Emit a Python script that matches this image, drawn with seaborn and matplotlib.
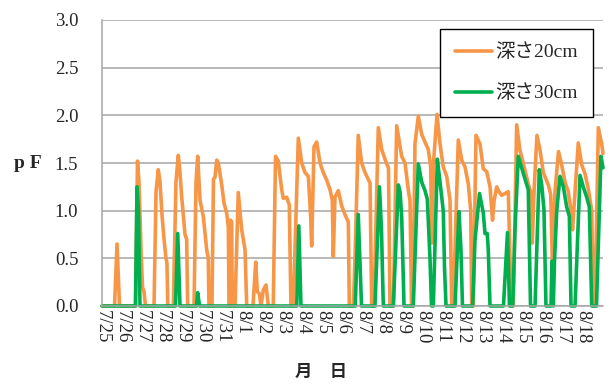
import matplotlib
matplotlib.use("Agg")
import matplotlib.pyplot as plt
import seaborn as sns
import pandas as pd
import numpy as np

# ---- data (hours since 7/25 0:00, pF) ----
hours_20 = [0, 15, 18, 21, 40.1, 42.5, 44.3, 46.7, 48.5, 50.3, 52.1,
            62.3, 64.7, 67.4, 69.5, 71.9, 74.3, 76.6, 77.8, 78.8,
            85.4, 88.6, 91.4, 93.4, 95.4, 99.4, 101.4, 102.6,
            110.2, 112.6, 114.6, 117.4, 121.3, 125.4, 127.3, 128.1,
            131.7, 133.5, 135.3, 137.4, 139.3, 143.4, 146.1, 149.4, 151.3, 152.1,
            153.1, 153.9, 155.3, 156.0,
            159.3, 163.2, 167.3, 171.3, 173.3,
            180.8, 184.1, 186.0, 188.4, 190.4, 193.2, 196.4, 199.2,
            205.1, 207.8, 211.1, 215.2, 217.1, 221.2, 224.3, 226.3,
            229.1, 235.1, 239.2, 243.1, 247.1, 249.9, 251.1, 253.9, 257.1, 261.1,
            265.0, 269.1, 273.1, 275.8, 277.0, 279.0, 283.0, 287.1, 291.0, 295.0, 296.2,
            301.0, 303.0, 306.9, 311.0, 315.0, 321.0, 323.0,
            325.7, 330.9, 335.0, 341.0, 343.1, 344.9,
            348.9, 352.9, 358.9, 362.9, 366.8, 368.9, 370.7,
            372.5, 374.8, 378.8, 382.9, 386.8, 390.8, 393.6, 395.2, 397.0, 401.2,
            404.8, 408.7, 412.8, 416.8, 418.8,
            420.7, 426.7, 430.8, 434.7, 438.7, 441.6, 442.7,
            444.7, 447.9, 452.7, 456.6, 460.7, 464.7, 467.7, 469.5, 472.7, 475.4,
            478.7, 482.6, 486.6, 488.6, 490.4,
            492.6, 496.6, 500.6, 504.5, 510.5, 513.2, 515.3, 517.4, 520.9, 524.5,
            528.5, 534.5, 537.4, 539.3, 542.5, 546.7, 550.5, 554.5, 558.4, 561.7,
            563.5, 566.5, 570.4, 574.5, 578.4, 582.4, 586.5, 588.4,
            590.4, 594.4, 598.4, 600]
pf_20 = [0, 0, 0.65, 0, 0, 1.52, 1.3, 0.6, 0.2, 0.15, 0,
         0, 1.2, 1.43, 1.3, 0.95, 0.7, 0.5, 0.45, 0,
         0, 1.3, 1.58, 1.4, 1.15, 0.75, 0.7, 0,
         0, 1.3, 1.57, 1.11, 0.94, 0.59, 0.5, 0,
         0, 1.33, 1.35, 1.53, 1.5, 1.27, 1.08, 0.97, 0.83, 0,
         0, 0.9, 0.88, 0,
         0, 1.19, 0.80, 0.59, 0,
         0, 0.46, 0.15, 0.13, 0, 0.17, 0.22, 0,
         0, 1.57, 1.52, 1.22, 1.13, 1.14, 1.06, 0,
         0, 1.76, 1.50, 1.40, 1.36, 0.94, 0.63, 1.67, 1.72, 1.50,
         1.40, 1.32, 1.22, 1.11, 0.52, 1.14, 1.21, 1.05, 0.96, 0.88, 0,
         0, 0.5, 1.79, 1.50, 1.40, 1.29, 0,
         0, 1.87, 1.64, 1.49, 1.45, 0,
         0, 1.89, 1.57, 1.50, 1.22, 1.10, 0,
         0, 1.70, 1.99, 1.80, 1.72, 1.64, 1.46, 0.66, 1.50, 2.01,
         1.70, 1.46, 1.36, 1.11, 0,
         0, 1.74, 1.53, 1.46, 1.28, 1.00, 0,
         0, 1.79, 1.70, 1.44, 1.41, 1.25, 0.90, 1.10, 1.25, 1.20,
         1.16, 1.18, 1.20, 0.50, 0,
         0, 1.90, 1.63, 1.50, 1.28, 1.20, 0.66, 1.20, 1.79, 1.64,
         1.40, 1.27, 1.17, 0.45, 1.20, 1.62, 1.48, 1.30, 1.20, 1.00,
         0.80, 1.20, 1.71, 1.48, 1.39, 1.23, 1.00, 0,
         0, 1.87, 1.70, 1.60]

hours_30 = [0, 40.1, 41.9, 43.7, 45.5,
            88.0, 90.7, 93.4,
            113.2, 114.6, 116.8,
            233.2, 235.7, 238.3,
            303.3, 306.9, 310.8,
            326.9, 332.3, 334.7, 336.9,
            348.9, 354.9, 356.9, 358.9, 361.7,
            372.8, 378.8, 382.9, 386.8, 389.6, 392.8, 394.6,
            396.8, 401.6, 404.8, 408.7, 410.2, 412.0,
            422.8, 427.5, 429.9, 431.7,
            443.9, 446.7, 452.1, 456.6, 458.7, 461.4, 462.6, 464.7,
            480.8, 485.6, 488.0,
            491.9, 494.6, 498.5, 502.6, 506.6, 510.5, 513.2,
            518.6, 523.7, 526.6, 529.3, 531.7,
            537.7, 538.9, 540.5, 541.9, 544.6, 548.5, 552.5, 556.5, 559.7, 561.7,
            566.5, 572.5, 576.4, 580.5, 583.6, 586.5,
            592.2, 597.6, 600]
pf_30 = [0, 0, 1.25, 1.0, 0,
         0, 0.76, 0,
         0, 0.14, 0,
         0, 0.84, 0,
         0, 0.96, 0,
         0, 1.25, 0.8, 0,
         0, 1.27, 1.20, 0.94, 0,
         0, 1.49, 1.30, 1.21, 1.12, 0.5, 0,
         0, 1.54, 1.30, 1.00, 0.40, 0,
         0, 0.99, 0.59, 0,
         0, 0.69, 1.18, 0.98, 0.76, 0.76, 0.59, 0,
         0, 0.77, 0,
         0, 0.80, 1.57, 1.45, 1.33, 1.22, 0,
         0, 1.43, 1.27, 1.01, 0,
         0, 0.47, 0, 0.47, 1.00, 1.36, 1.25, 1.04, 0.94, 0,
         0, 1.37, 1.25, 1.14, 1.04, 0,
         0, 1.57, 1.45]

date_labels = ['7/25', '7/26', '7/27', '7/28', '7/29', '7/30', '7/31',
               '8/1', '8/2', '8/3', '8/4', '8/5', '8/6', '8/7', '8/8', '8/9',
               '8/10', '8/11', '8/12', '8/13', '8/14', '8/15', '8/16', '8/17', '8/18']
series_names = ['深さ20cm', '深さ30cm']
series_colors = ['#F79646', '#00B050']

sns.set_style('white')
plt.rcParams['font.family'] = ['Liberation Serif', 'Noto Sans CJK JP']

df = pd.concat([
    pd.DataFrame({'hour': hours_20, 'pF': pf_20, 'depth': series_names[0]}),
    pd.DataFrame({'hour': hours_30, 'pF': pf_30, 'depth': series_names[1]}),
], ignore_index=True)

fig = plt.figure(figsize=(6.1, 3.85), dpi=100)
ax = fig.add_axes([102 / 610, 1 - 306 / 385, 501 / 610, 286 / 385])

sns.lineplot(data=df, x='hour', y='pF', hue='depth', hue_order=series_names,
             palette=series_colors, estimator=None, sort=False, linewidth=2.6,
             legend=False, ax=ax)
for ln in ax.lines:
    ln.set_clip_on(False)
    ln.set_solid_joinstyle('round')
    ln.set_solid_capstyle('round')

ax.set_xlim(0, 600)
ax.set_ylim(0, 3.0)
grid_c = '#A6A6A6'
ax.set_axisbelow(True)
ax.yaxis.grid(True, color=grid_c, linewidth=1.1)
ax.xaxis.grid(False)

ax.set_xticks(np.arange(len(date_labels)) * 24)
ax.set_xticklabels(date_labels, rotation=-90, fontsize=13.5)
ax.set_xticks(np.arange(0, 601, 100), minor=True)
ax.tick_params(axis='x', which='major', length=0, pad=3)
ax.tick_params(axis='x', which='minor', length=4, width=1, color=grid_c)

yt = np.arange(0, 3.01, 0.5)
ax.set_yticks(yt)
ax.set_yticklabels([f'{v:.1f}' for v in yt], fontsize=13.5)
ax.tick_params(axis='y', length=6, width=1, color=grid_c, pad=11)

for s in ['top', 'right']:
    ax.spines[s].set_visible(False)
for s in ['left', 'bottom']:
    ax.spines[s].set_color(grid_c)
    ax.spines[s].set_linewidth(1.1)

ax.set_xlabel('')
ax.set_ylabel('')
fig.text(28 / 610, 1 - 163 / 385, 'p F', fontsize=14, fontweight='bold',
         family=['Liberation Serif'], ha='center', va='center')
fig.text(321 / 610, 1 - 372 / 385, '月　日', fontsize=12.5, fontweight='bold',
         family=['Noto Sans CJK JP'], ha='center', va='center')

leg = ax.legend(ax.lines[:2], series_names, loc='upper left',
                bbox_to_anchor=(440 / 610, 1 - 29 / 385), bbox_transform=fig.transFigure,
                frameon=True, fancybox=False, edgecolor='black', framealpha=1,
                fontsize=14, handlelength=1.9, handletextpad=0.2,
                labelspacing=1.2, borderpad=0.75, borderaxespad=0)
leg.get_frame().set_linewidth(1.0)

fig.savefig('out.png', dpi=100)
